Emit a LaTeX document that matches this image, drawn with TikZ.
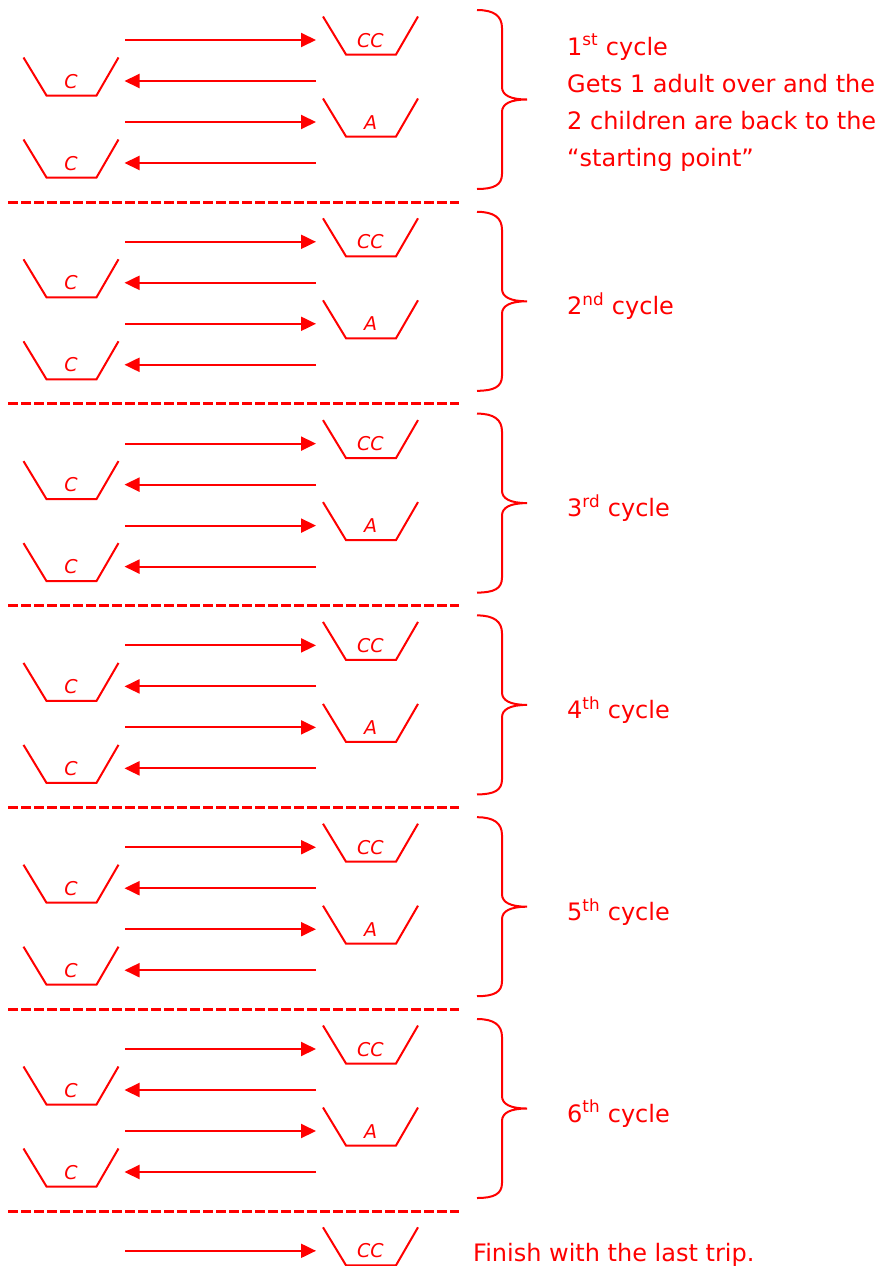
\documentclass[tikz,border=0pt]{standalone}
\usepackage{fontspec}
\setmainfont{DejaVu Sans}
\usetikzlibrary{arrows.meta}
\definecolor{ink}{RGB}{255,0,0}

\tikzset{
  hull/.style={draw=ink, line width=2pt, line join=miter},
  trip/.style={draw=ink, line width=2pt, -{Triangle[length=15pt,width=14pt]}},
  sepline/.style={draw=ink, line width=3pt, dash pattern=on 10pt off 3pt},
  boat/.style={minimum width=95pt, inner sep=0pt, outer sep=0pt,
    text height=30.5pt, text depth=7.5pt, text=ink,
    font=\fontsize{19}{19}\selectfont\itshape},
  note/.style={anchor=base west, inner sep=0pt, text=ink,
    font=\fontsize{24}{28}\selectfont},
}

% a boat: name, centre x, row y, passengers
\newcommand\drawboat[4]{%
  \node[boat, anchor=base] (#1) at (#2,#3+7) {#4};
  \draw[hull] (#1.north west) -- ([xshift=23pt]#1.south west)
    -- ([xshift=-22pt]#1.south east) -- (#1.north east);
}

\begin{document}
\begin{tikzpicture}[x=1pt,y=-1pt]
\fill[white] (0,0) rectangle (893,1266);
\useasboundingbox (0,0) rectangle (893,1266);

\foreach \k/\sup in {1/st,2/nd,3/rd,4/th,5/th,6/th}{
  \pgfmathsetmacro\r{40+(\k-1)*201.8}
  % trip 1: two children go over
  \drawboat{cc\k}{370.5}{\r}{CC}
  \coordinate (go\k) at (125,\r);
  \draw[trip, shorten >=7pt] (go\k) -- (go\k -| cc\k.west);
  % trip 2: one child comes back
  \drawboat{ca\k}{71}{\r+41}{C}
  \coordinate (back\k) at (316,\r+41);
  \draw[trip, shorten >=6pt] (back\k) -- (back\k -| ca\k.east);
  % trip 3: one adult goes over
  \drawboat{ad\k}{370.5}{\r+82}{A}
  \coordinate (goa\k) at (125,\r+82);
  \draw[trip, shorten >=7pt] (goa\k) -- (goa\k -| ad\k.west);
  % trip 4: the other child comes back
  \drawboat{cb\k}{71}{\r+123}{C}
  \coordinate (backb\k) at (316,\r+123);
  \draw[trip, shorten >=6pt] (backb\k) -- (backb\k -| cb\k.east);
  % brace grouping the four trips
  \draw[hull] (477,\r-30) .. controls (494,\r-30) and (502,\r-24) .. (502,\r-12)
    -- (502,\r+47) .. controls (502,\r+55) and (510,\r+59.5) .. (527,\r+59.5)
    .. controls (510,\r+59.5) and (502,\r+64) .. (502,\r+72)
    -- (502,\r+134) .. controls (502,\r+145) and (494,\r+149) .. (477,\r+149);
  % separator under the cycle
  \draw[sepline] (8,\r+162) -- (459,\r+162);
  \ifnum\k>1
    \node[note] (cyc\k) at (567,\r+73) {\k\textsuperscript{\sup} cycle};
  \fi
}

\node[note] (cyc1) at (567,55) {1\textsuperscript{st} cycle};
\node[note] (n2) at (567,92) {Gets 1 adult over and the};
\node[note] (n3) at (567,129) {2 children are back to the};
\node[note] (n4) at (567,166) {“starting point”};

% the last trip
\drawboat{fin}{370.5}{1250.8}{CC}
\coordinate (golast) at (125,1250.8);
\draw[trip, shorten >=7pt] (golast) -- (golast -| fin.west);
\node[note] (finish) at (473,1261) {Finish with the last trip.};
\end{tikzpicture}
\end{document}
